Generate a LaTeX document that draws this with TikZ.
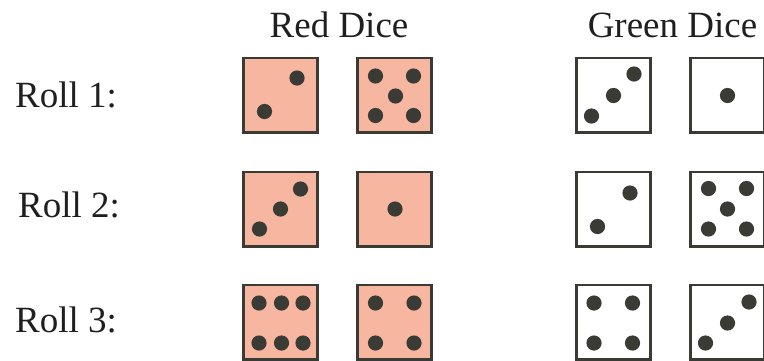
\documentclass[tikz,border=0pt]{standalone}
\usepackage{fontspec}
\setmainfont{Liberation Serif}
\definecolor{redface}{HTML}{F6B6A0}
\definecolor{pipcol}{HTML}{3B3B36}
\tikzset{
  die/.style={draw=pipcol, line width=2.6pt, minimum size=74.4pt, inner sep=0pt},
  reddie/.style={die, fill=redface},
  greendie/.style={die, fill=white},
  pip/.style={fill=pipcol},
  lbl/.style={font=\fontsize{37}{44}\selectfont, inner sep=0pt, text=black!88}
}
\newcommand{\pipat}[3]{\fill[pip] (#1) ++(#2,#3) circle (7.6pt);}
\begin{document}
\begin{tikzpicture}[x=1pt,y=-1pt]
\useasboundingbox (0,0) rectangle (764,360);
\clip (0,0) rectangle (764,360);
% headers
\node[lbl, anchor=base] (hred) at (339,37.5) {Red Dice};
\node[lbl, anchor=base] (hgreen) at (672.5,37.5) {Green Dice};
% row labels
\node[lbl, anchor=base west] (l1) at (15,107) {Roll 1:};
\node[lbl, anchor=base west] (l2) at (18,217) {Roll 2:};
\node[lbl, anchor=base west] (l3) at (15,332) {Roll 3:};
% dice
\node[reddie] (r1a) at (280.5,95) {};
\node[reddie] (r1b) at (394.5,95) {};
\node[greendie] (g1a) at (613.5,95) {};
\node[greendie] (g1b) at (727.5,95) {};
\node[reddie] (r2a) at (280.5,209) {};
\node[reddie] (r2b) at (394.5,209) {};
\node[greendie] (g2a) at (613.5,209) {};
\node[greendie] (g2b) at (727.5,209) {};
\node[reddie] (r3a) at (280.5,322) {};
\node[reddie] (r3b) at (394.5,322) {};
\node[greendie] (g3a) at (613.5,322) {};
\node[greendie] (g3b) at (727.5,322) {};
% pips row 1
\pipat{r1a}{16.5}{-17}\pipat{r1a}{-16}{16.5}
\pipat{r1b}{-19}{-19}\pipat{r1b}{19}{-19}\pipat{r1b}{1}{1}\pipat{r1b}{-19}{20.5}\pipat{r1b}{19}{20.5}
\pipat{g1a}{20.5}{-21}\pipat{g1a}{0}{0.5}\pipat{g1a}{-22}{21}
\pipat{g1b}{0}{0.5}
% pips row 2
\pipat{r2a}{20}{-20}\pipat{r2a}{0}{0}\pipat{r2a}{-21}{20}
\pipat{r2b}{0.5}{0}
\pipat{g2a}{16.5}{-16}\pipat{g2a}{-16}{17.5}
\pipat{g2b}{-19}{-20.5}\pipat{g2b}{19}{-20.5}\pipat{g2b}{0}{0}\pipat{g2b}{-19}{20}\pipat{g2b}{19}{20}
% pips row 3
\pipat{r3a}{-21.5}{-19}\pipat{r3a}{1}{-19}\pipat{r3a}{22.5}{-19}
\pipat{r3a}{-21.5}{21}\pipat{r3a}{1}{21}\pipat{r3a}{22.5}{21}
\pipat{r3b}{-19}{-19}\pipat{r3b}{19.5}{-19}\pipat{r3b}{-19}{21}\pipat{r3b}{19.5}{21}
\pipat{g3a}{-19.5}{-19}\pipat{g3a}{19}{-19}\pipat{g3a}{-19.5}{21}\pipat{g3a}{19}{21}
\pipat{g3b}{21.5}{-20}\pipat{g3b}{0}{1}\pipat{g3b}{-22}{21}
\end{tikzpicture}
\end{document}
